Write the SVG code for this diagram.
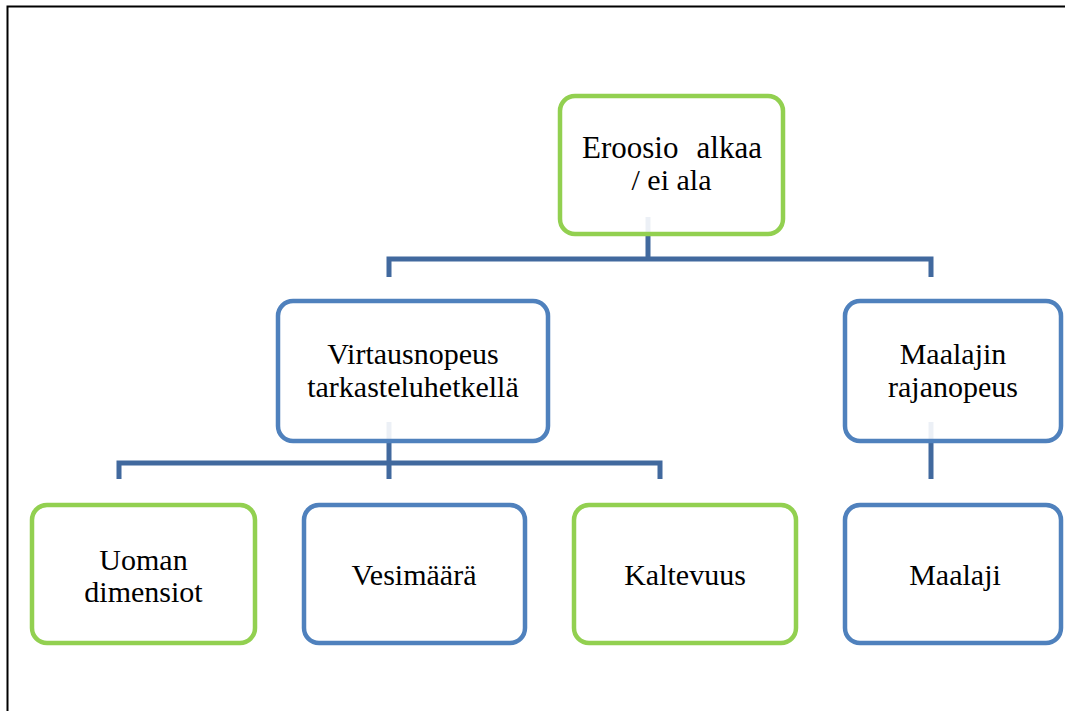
<svg xmlns="http://www.w3.org/2000/svg" width="1065" height="711" viewBox="0 0 1065 711">
<style>
.box{fill:#ffffff;fill-opacity:0.9;stroke-width:4.5}
.g{stroke:#92D050}
.b{stroke:#4F81BD}
.conn{fill:none;stroke:#41699E;stroke-width:5}
.lbl{font-family:"Liberation Serif","Times New Roman",serif;font-size:30px;fill:#000;text-anchor:middle}
</style>
<rect x="0" y="0" width="1065" height="711" fill="#ffffff"/>
<g id="page-border">
<path d="M7.5 711 V6.5 H1065" fill="none" stroke="#000" stroke-width="2"/>
</g>
<g id="connectors">
<path class="conn" d="M648 217 V259 M389 277 V259 H931 V277"/>
<path class="conn" d="M389 422 V463 M119 479 V463 H660 V479 M389 463 V479"/>
<path class="conn" d="M931 422 V479"/>
</g>
<g id="node-eroosio">
<rect class="box g" x="560" y="96" width="223" height="138" rx="15"/>
<text class="lbl" x="582" y="158" style="text-anchor:start;font-size:31px">Eroosio</text>
<text class="lbl" x="762" y="158" style="text-anchor:end;font-size:31px">alkaa</text>
<text class="lbl" x="671.5" y="190">/ ei ala</text>
</g>
<g id="node-virtausnopeus">
<rect class="box b" x="278" y="301" width="270" height="140" rx="15"/>
<text class="lbl" x="413" y="364">Virtausnopeus</text>
<text class="lbl" x="413" y="397">tarkasteluhetkellä</text>
</g>
<g id="node-maalajin">
<rect class="box b" x="845" y="301" width="216" height="140" rx="15"/>
<text class="lbl" x="953" y="364">Maalajin</text>
<text class="lbl" x="953" y="397">rajanopeus</text>
</g>
<g id="node-uoman">
<rect class="box g" x="32" y="505" width="223" height="138" rx="15"/>
<text class="lbl" x="143.5" y="570">Uoman</text>
<text class="lbl" x="143.5" y="602">dimensiot</text>
</g>
<g id="node-vesimaara">
<rect class="box b" x="304" y="505" width="221" height="138" rx="15"/>
<text class="lbl" x="414" y="585">Vesimäärä</text>
</g>
<g id="node-kaltevuus">
<rect class="box g" x="574" y="505" width="222" height="138" rx="15"/>
<text class="lbl" x="685" y="585">Kaltevuus</text>
</g>
<g id="node-maalaji">
<rect class="box b" x="845" y="505" width="216" height="138" rx="15"/>
<text class="lbl" x="955" y="585">Maalaji</text>
</g>
</svg>
